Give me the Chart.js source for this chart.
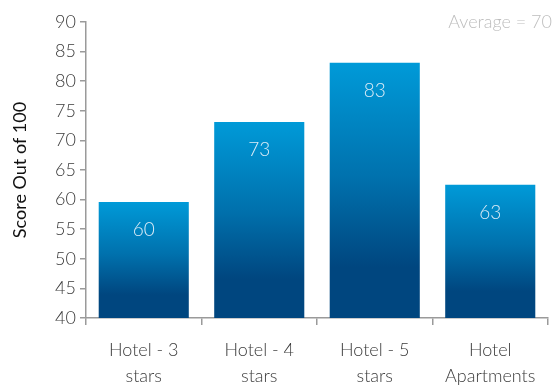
<!DOCTYPE html>
<html>
<head>
<meta charset="utf-8">
<script src="https://cdn.jsdelivr.net/npm/chart.js@4.4.0/dist/chart.umd.min.js"></script>
<style>
    html, body { margin: 0; padding: 0; background: #fff; }
    #wrap { width: 555px; height: 392px; }
</style>
</head>
<body>
<div id="wrap"><canvas id="scoreChart" width="555" height="392"></canvas></div>
<script>
// Hotel category scores
const categories = [['Hotel - 3', 'stars'], ['Hotel - 4', 'stars'], ['Hotel - 5', 'stars'], ['Hotel', 'Apartments']];
const scores = [59.6, 73.1, 83.1, 62.5];
const yTicks = [40, 45, 50, 55, 60, 65, 70, 75, 80, 85, 90];
const averageText = 'Average = 70';

const FONT = 'Lato, "Open Sans", sans-serif';

function barGradient(context) {
    const chart = context.chart;
    const yScale = chart.scales.y;
    if (!chart.chartArea || !yScale) return '#0078b4';
    const value = context.raw;
    const top = yScale.getPixelForValue(value);
    const base = yScale.getPixelForValue(yScale.min);
    const g = chart.ctx.createLinearGradient(0, top, 0, base);
    g.addColorStop(0, '#009ad8');
    g.addColorStop(0.45, '#0071ad');
    g.addColorStop(0.8, '#00467f');
    g.addColorStop(1, '#00467f');
    return g;
}

const valueLabels = {
    id: 'valueLabels',
    afterDatasetsDraw(chart) {
        const ctx = chart.ctx;
        const meta = chart.getDatasetMeta(0);
        ctx.save();
        ctx.font = '300 19px ' + FONT;
        ctx.fillStyle = '#dcecf7';
        ctx.textAlign = 'center';
        ctx.textBaseline = 'middle';
        meta.data.forEach((bar, i) => {
            ctx.fillText(Math.round(scores[i]), bar.x, bar.y + 28);
        });
        ctx.restore();
    }
};

const averageNote = {
    id: 'averageNote',
    afterDraw(chart) {
        const ctx = chart.ctx;
        ctx.save();
        ctx.font = '300 18px ' + FONT;
        ctx.fillStyle = '#bdbdbd';
        ctx.textAlign = 'right';
        ctx.textBaseline = 'middle';
        ctx.fillText(averageText, 552, 22);
        ctx.restore();
    }
};

new Chart(document.getElementById('scoreChart').getContext('2d'), {
    type: 'bar',
    data: {
        labels: categories,
        datasets: [{
            data: scores,
            backgroundColor: barGradient,
            borderWidth: 0,
            categoryPercentage: 0.78,
            barPercentage: 1
        }]
    },
    options: {
        responsive: false,
        animation: false,
        layout: { padding: { top: 22, right: 7, left: 0, bottom: 0 } },
        plugins: {
            legend: { display: false },
            tooltip: { enabled: false }
        },
        scales: {
            x: {
                afterFit: (scale) => { scale.height = 74; },
                grid: { display: true, drawOnChartArea: false, tickLength: 7, color: '#9a9a9a', lineWidth: 1.5 },
                border: { color: '#9a9a9a', width: 1.5 },
                ticks: {
                    color: '#3a3a3a',
                    font: { family: FONT, size: 18, weight: '300', lineHeight: 1.45 },
                    padding: 12,
                    maxRotation: 0,
                    autoSkip: false
                }
            },
            y: {
                min: 40,
                max: 90,
                afterFit: (scale) => { scale.width = 86; },
                afterBuildTicks: (scale) => { scale.ticks = yTicks.map(v => ({ value: v })); },
                grid: { display: true, drawOnChartArea: false, tickLength: 6, color: '#9a9a9a', lineWidth: 1.5 },
                border: { color: '#9a9a9a', width: 1.5 },
                title: {
                    display: true,
                    text: 'Score Out of 100',
                    color: '#111',
                    font: { family: FONT, size: 18 },
                    padding: { top: 9, bottom: 4 }
                },
                ticks: {
                    color: '#3a3a3a',
                    font: { family: FONT, size: 18, weight: '300' },
                    padding: 4
                }
            }
        }
    },
    plugins: [valueLabels, averageNote]
});
</script>
</body>
</html>
